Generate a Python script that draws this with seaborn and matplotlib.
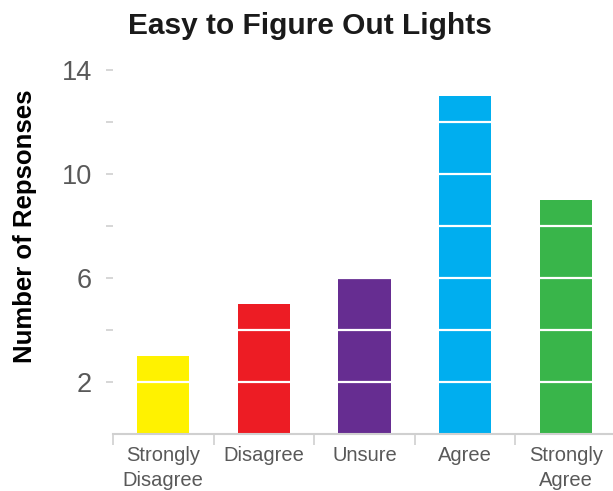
import matplotlib
matplotlib.use("Agg")
import matplotlib.pyplot as plt
import seaborn as sns
import pandas as pd
from matplotlib.ticker import FixedLocator, FuncFormatter

categories = ["Strongly\nDisagree", "Disagree", "Unsure", "Agree", "Strongly\nAgree"]
responses = [3, 5, 6, 13, 9]
bar_colors = ["#FFF200", "#ED1C24", "#662D91", "#00AEEF", "#39B54A"]
y_ticks = [2, 4, 6, 8, 10, 12, 14]
y_labelled = [2, 6, 10, 14]

sns.set_style("white")
plt.rcParams["font.family"] = ["Liberation Sans", "DejaVu Sans"]

df = pd.DataFrame({"category": categories, "responses": responses})

fig = plt.figure(figsize=(6.13, 4.91), dpi=100)
ax = fig.add_axes([0.1843, 0.1161, 0.8157, 0.7413])

sns.barplot(data=df, x="category", y="responses", hue="category",
            palette=bar_colors, width=0.52, legend=False, ax=ax,
            saturation=1, edgecolor="none")

ax.set_xlim(-0.5, 4.47)
ax.set_ylim(0, 14)

# y axis: ticks every 2, labels only on 2, 6, 10, 14
ax.yaxis.set_major_locator(FixedLocator(y_ticks))
ax.yaxis.set_major_formatter(FuncFormatter(
    lambda v, p: f"{int(v)}" if int(round(v)) in y_labelled else ""))
ax.tick_params(axis="y", which="major", length=5, width=1.2, color="#D0D0D0",
               labelsize=19.5, labelcolor="#595959", pad=10, left=True)

# white grid lines cut across the bars
ax.yaxis.grid(True, color="white", linewidth=1.6)
ax.xaxis.grid(False)
ax.set_axisbelow(False)

# x axis: labels at category centres, tick marks at category boundaries
ax.tick_params(axis="x", which="major", length=0, labelsize=14.5,
               labelcolor="#595959", pad=9)
ax.set_xticks(range(len(categories)))
ax.set_xticklabels(categories, linespacing=1.4)
ax.xaxis.set_minor_locator(FixedLocator([-0.5, 0.5, 1.5, 2.5, 3.5]))
ax.tick_params(axis="x", which="minor", length=8, width=1.2, color="#D0D0D0",
               bottom=True, direction="out")

for side in ["top", "right", "left"]:
    ax.spines[side].set_visible(False)
ax.spines["bottom"].set_color("#D0D0D0")
ax.spines["bottom"].set_linewidth(1.5)

ax.set_xlabel("")
ax.set_ylabel("Number of Repsonses", fontsize=18.5, fontweight="bold",
              color="black", va="center")
ax.yaxis.set_label_coords(-0.176, 0.571)

fig.text(0.505, 0.948, "Easy to Figure Out Lights", ha="center", va="center",
         fontsize=21.5, fontweight="bold", color="#1a1a1a")

fig.savefig("out.png", dpi=100)
